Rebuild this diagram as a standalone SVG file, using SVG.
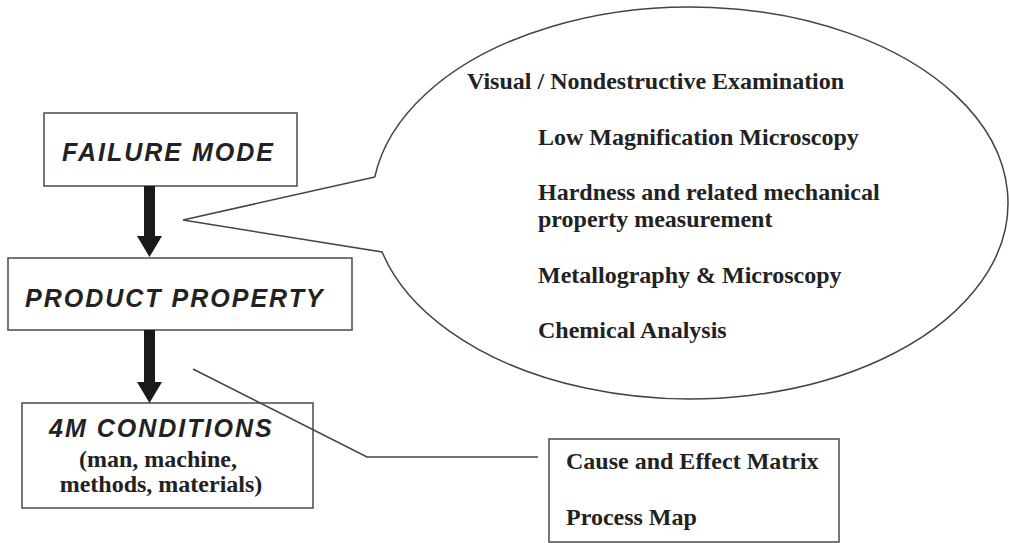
<svg xmlns="http://www.w3.org/2000/svg" width="1009" height="543" viewBox="0 0 1009 543">
<style>
.box{fill:#fff;stroke:#555;stroke-width:1.6}
.head{font-family:"Liberation Sans",Arial,sans-serif;font-weight:bold;font-style:italic;font-size:25px;letter-spacing:2px;fill:#222}
.ser{font-family:"Liberation Serif","Times New Roman",serif;font-weight:bold;font-size:24px;fill:#222}
.line{fill:none;stroke:#444;stroke-width:1.5}
.arrow{fill:#1a1a1a}
</style>
<rect width="1009" height="543" fill="#fff"/>
<g id="callout">
<path class="line" d="M 374.8 177 L 183 220 L 382.1 252 A 318 196 0 1 0 374.8 177"/>
<text class="ser" x="467" y="89">Visual / Nondestructive Examination</text>
<text class="ser" x="538" y="145">Low Magnification Microscopy</text>
<text class="ser" x="538" y="200">Hardness and related mechanical</text>
<text class="ser" x="538" y="227">property measurement</text>
<text class="ser" x="538" y="283">Metallography &amp; Microscopy</text>
<text class="ser" x="538" y="338">Chemical Analysis</text>
</g>
<g id="failure-mode">
<rect class="box" x="44" y="113" width="253" height="73"/>
<text class="head" x="62" y="161">FAILURE MODE</text>
</g>
<g id="product-property">
<rect class="box" x="8" y="258" width="344" height="72"/>
<text class="head" x="25" y="307">PRODUCT PROPERTY</text>
</g>
<g id="conditions-4m">
<rect class="box" x="22" y="403" width="291" height="105"/>
<text class="head" x="49" y="437">4M CONDITIONS</text>
<text class="ser" x="158" y="467" text-anchor="middle">(man, machine,</text>
<text class="ser" x="161" y="492" text-anchor="middle">methods, materials)</text>
</g>
<g id="tools-box">
<rect class="box" x="549" y="439" width="290" height="103"/>
<text class="ser" x="566" y="469">Cause and Effect Matrix</text>
<text class="ser" x="566" y="525">Process Map</text>
</g>
<g id="connectors">
<path class="arrow" d="M144 186 H155 V236 H162 L149.5 257 L137 236 H144 Z"/>
<path class="arrow" d="M144 330 H155 V382 H162 L149.5 403 L137 382 H144 Z"/>
<path class="line" d="M193 369 L367 457 L538 457"/>
</g>
</svg>
